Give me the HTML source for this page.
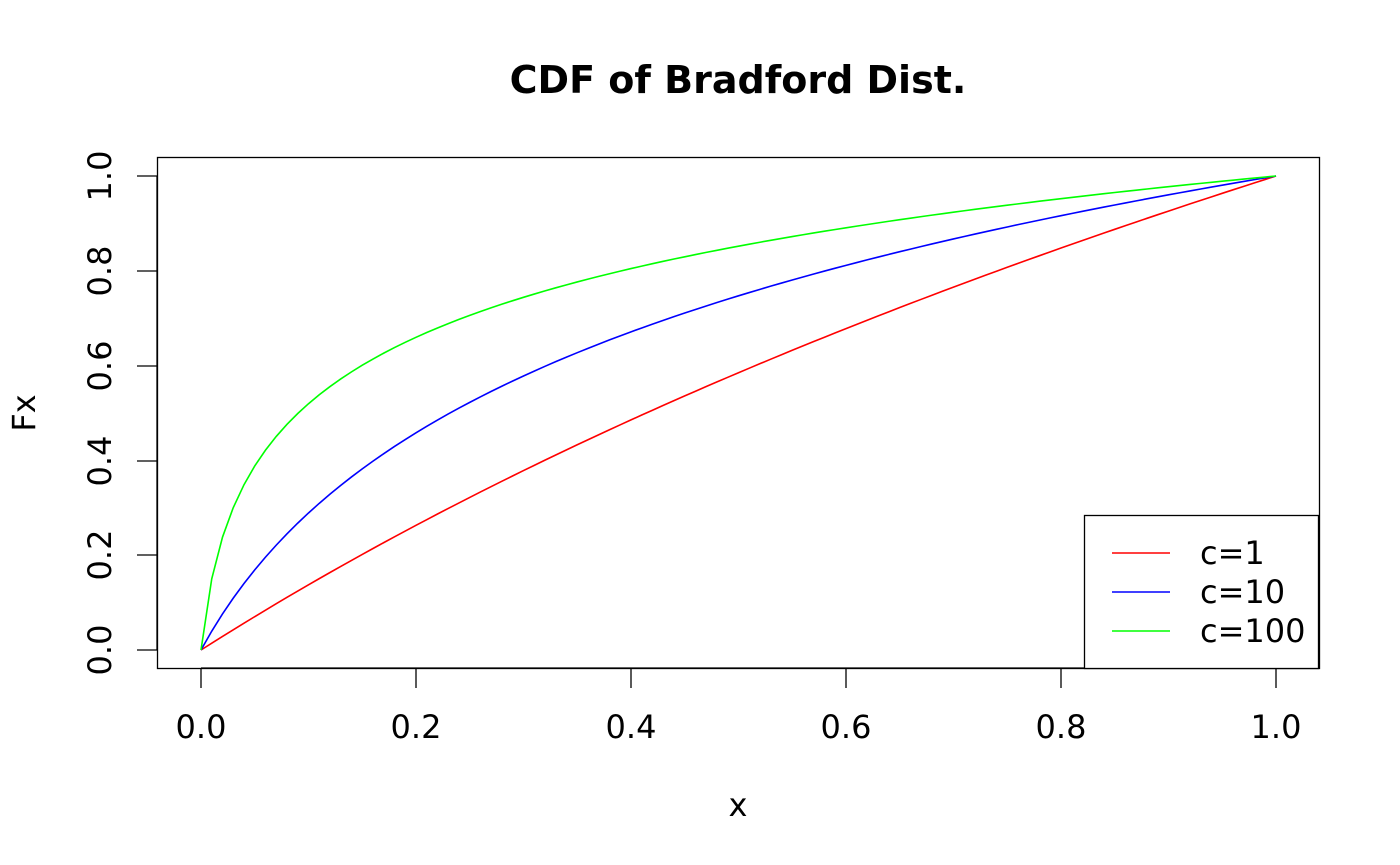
<!DOCTYPE html>
<html><head><meta charset="utf-8"><style>
html,body{margin:0;padding:0;background:#fff;}
svg{display:block;font-family:"DejaVu Sans","Liberation Sans",sans-serif;}
</style></head><body>
<svg id="s" width="1400" height="865" xmlns="http://www.w3.org/2000/svg">
<rect width="1400" height="865" fill="#fff"/>
<text x="738" y="93" text-anchor="middle" style="font-size:38px;font-weight:bold">CDF of Bradford Dist.</text>
<rect x="157.5" y="157.5" width="1162" height="511" fill="none" stroke="#000" stroke-width="1.3"/>
<g stroke="#000" stroke-width="1.3">
<line x1="201" y1="668" x2="1276" y2="668"/>
<line x1="201" y1="668" x2="201" y2="688"/><line x1="416" y1="668" x2="416" y2="688"/>
<line x1="631" y1="668" x2="631" y2="688"/><line x1="846" y1="668" x2="846" y2="688"/>
<line x1="1061" y1="668" x2="1061" y2="688"/><line x1="1276" y1="668" x2="1276" y2="688"/>
<line x1="157" y1="176" x2="157" y2="650"/>
<line x1="137" y1="650" x2="157" y2="650"/><line x1="137" y1="555" x2="157" y2="555"/>
<line x1="137" y1="461" x2="157" y2="461"/><line x1="137" y1="366" x2="157" y2="366"/>
<line x1="137" y1="271" x2="157" y2="271"/><line x1="137" y1="176" x2="157" y2="176"/>
</g>
<g text-anchor="middle" style="font-size:32px">
<text x="201" y="738">0.0</text><text x="416" y="738">0.2</text><text x="631" y="738">0.4</text>
<text x="846" y="738">0.6</text><text x="1061" y="738">0.8</text><text x="1276" y="738">1.0</text>
<text x="738" y="816">x</text>
<text transform="translate(111,650) rotate(-90)">0.0</text>
<text transform="translate(111,555) rotate(-90)">0.2</text>
<text transform="translate(111,461) rotate(-90)">0.4</text>
<text transform="translate(111,366) rotate(-90)">0.6</text>
<text transform="translate(111,271) rotate(-90)">0.8</text>
<text transform="translate(111,176) rotate(-90)">1.0</text>
<text transform="translate(35,413) rotate(-90)">Fx</text>
</g>
<g id="curves" fill="none" stroke-width="1.6"></g>
<rect x="1084.5" y="515.5" width="234" height="153" fill="#fff" stroke="#000" stroke-width="1.3"/>
<line x1="1112" y1="553" x2="1170" y2="553" stroke="#f00" stroke-width="1.6"/>
<line x1="1112" y1="592" x2="1170" y2="592" stroke="#00f" stroke-width="1.6"/>
<line x1="1112" y1="631" x2="1170" y2="631" stroke="#0f0" stroke-width="1.6"/>
<g style="font-size:32px"><text x="1200" y="564">c=1</text><text x="1200" y="603">c=10</text><text x="1200" y="642">c=100</text></g>
</svg>
<script>
var g=document.getElementById('curves');
[[1,'#f00'],[10,'#00f'],[100,'#0f0']].forEach(function(a){
 var c=a[0],d='';
 for(var i=0;i<=100;i++){var x=i/100,F=Math.log(1+c*x)/Math.log(1+c);
  d+=(i?'L':'M')+(201+1075*x).toFixed(2)+','+(650-474*F).toFixed(2);}
 var p=document.createElementNS('http://www.w3.org/2000/svg','path');
 p.setAttribute('d',d);p.setAttribute('stroke',a[1]);g.appendChild(p);
});
</script>
</body></html>
